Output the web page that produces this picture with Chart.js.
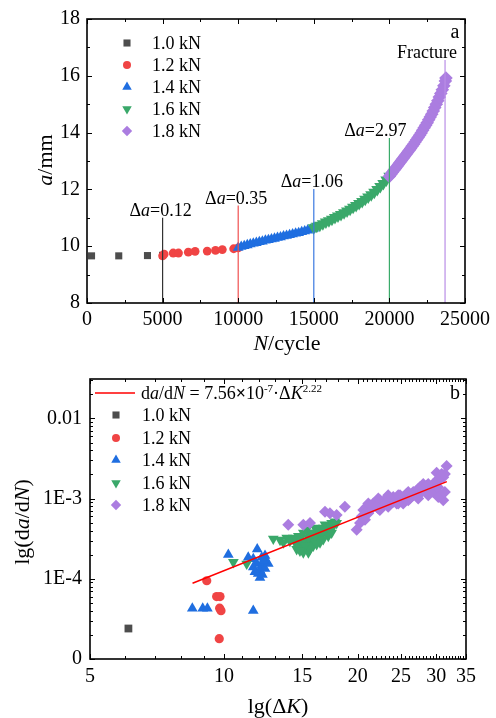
<!DOCTYPE html>
<html><head><meta charset="utf-8">
<script src="https://cdn.jsdelivr.net/npm/chart.js@4/dist/chart.umd.min.js"></script>
<style>
html,body{margin:0;padding:0;background:#fff;}
.box{width:496px;height:359px;position:relative;}
canvas{display:block;}
</style>
</head><body>
<div class="box"><canvas id="c1"></canvas></div>
<div class="box"><canvas id="c2"></canvas></div>
<script>
const FONT = '"Liberation Serif","Times New Roman",serif';
const seriesLabels = ['1.0 kN','1.2 kN','1.4 kN','1.6 kN','1.8 kN'];
const seriesColors = ['#4d4d4d','#f04444','#1f6ee0','#3aa86a','#ab7de0'];
const seriesStyles = ['rect','circle','triangle','triangleDown','rectRot'];

// ---------- chart a : crack length vs cycles ----------
const cycles10 = [300, 2100, 4000, 5000];
const crack10  = [9.66, 9.66, 9.67, 9.68];
const cycles12 = [5000, 5100, 5700, 6050, 6700, 7150, 7950, 8500, 8950, 9700, 10000];
const crack12  = [9.66, 9.72, 9.76, 9.76, 9.79, 9.82, 9.83, 9.85, 9.88, 9.91, 9.94];
const cycles14 = [10000,10200,10400,10600,10800,11000,11200,11400,11600,11800,12000,12200,12400,12600,12800,13000,13200,13400,13600,13800,14000,14200,14400,14600,14800,15000];
const crack14  = [9.95,9.98,10.01,10.04,10.07,10.10,10.12,10.15,10.17,10.20,10.22,10.25,10.27,10.30,10.32,10.35,10.37,10.40,10.42,10.45,10.47,10.50,10.53,10.56,10.59,10.63];
const cycles16 = [15000,15200,15400,15600,15800,16000,16200,16400,16600,16800,17000,17200,17400,17600,17800,18000,18200,18400,18600,18800,19000,19200,19400,19600,19800,20000];
const crack16  = [10.65,10.70,10.74,10.79,10.85,10.90,10.95,11.01,11.06,11.12,11.18,11.24,11.30,11.37,11.43,11.50,11.57,11.65,11.73,11.81,11.90,12.00,12.10,12.21,12.33,12.46];
const cycles18 = [20000,20100,20200,20300,20400,20500,20600,20700,20800,20900,21000,21100,21200,21300,21400,21500,21600,21700,21800,21900,22000,22100,22200,22300,22400,22500,22600,22700,22800,22900,23000,23100,23200,23300,23400,23500,23600,23700,23740];
const crack18  = [12.46,12.53,12.60,12.67,12.74,12.81,12.88,12.95,13.02,13.09,13.16,13.23,13.30,13.37,13.44,13.52,13.59,13.67,13.75,13.83,13.91,13.99,14.08,14.17,14.26,14.35,14.45,14.55,14.65,14.76,14.88,15.00,15.12,15.25,15.38,15.51,15.65,15.82,15.92];
// load-change markers
const markCycles = [5000, 10000, 15000, 20000, 23680];
const markTop    = [11.0, 11.43, 12.01, 13.81, 16.56];
const markText   = ['0.12', '0.35', '1.06', '2.97', 'Fracture'];
const markColors = ['#333333', '#f05050', '#3a78e0', '#3aab6a', '#b98ee6'];
const aXTicks = [0, 5000, 10000, 15000, 20000, 25000];
const aYTicks = [8, 10, 12, 14, 16, 18];

// ---------- chart b : da/dN vs dK ----------
const dK10 = [6.1];
const rate10 = [2.4e-5];
const dK12 = [9.15, 9.63, 9.80, 9.78, 9.85, 9.76];
const rate12 = [9.45e-5, 6.0e-5, 6.0e-5, 4.3e-5, 4.0e-5, 1.79e-5];
const dK14 = [8.49,8.96,9.18,11.64,10.23,11.34,11.64,11.88,12.16,12.37,11.85,12.16,12.47,11.64,12.05,12.37,11.94,12.05,12.58,12.26,11.74,12.2];
const rate14 = [4.26e-5,4.26e-5,4.26e-5,4.0e-5,2.0e-4,1.85e-4,1.77e-4,2.34e-4,1.85e-4,1.94e-4,1.54e-4,1.47e-4,1.61e-4,1.40e-4,1.28e-4,1.34e-4,1.16e-4,1.03e-4,1.54e-4,1.69e-4,1.22e-4,1.13e-4];
const dK16 = [10.50,11.25,12.91,13.37,13.6,14.32,14.45,14.70,14.82,14.95,15.08,15.35,15.61,15.61,15.88,15.88,16.16,16.30,16.44,16.58,16.72,17.02,17.16,17.31,17.46,17.61,17.76,17.92,15.35,15.08,16.02,16.87,14.57,15.21,14.82,15.48,16.44,17.16,15.88,13.84,
              14.07,14.57,14.95,15.48,15.74,16.02,16.30,16.58,16.87,17.31,17.61,15.61,15.21,14.82,16.16,16.72,17.46];
const rate16 = [1.61e-4,1.54e-4,3.16e-4,3.05e-4,2.83e-4,3.25e-4,2.83e-4,3.41e-4,2.58e-4,2.34e-4,2.13e-4,2.46e-4,2.83e-4,3.41e-4,3.74e-4,2.58e-4,3.10e-4,3.57e-4,3.92e-4,3.41e-4,4.31e-4,3.74e-4,4.52e-4,4.10e-4,4.95e-4,4.52e-4,5.18e-4,4.95e-4,4.10e-4,3.74e-4,4.31e-4,4.73e-4,2.34e-4,2.96e-4,3.10e-4,2.13e-4,2.83e-4,3.41e-4,3.10e-4,3.25e-4,
                2.96e-4,3.10e-4,2.83e-4,3.25e-4,3.74e-4,3.41e-4,4.10e-4,3.74e-4,4.10e-4,4.52e-4,4.73e-4,2.34e-4,2.58e-4,2.23e-4,2.70e-4,3.10e-4,3.74e-4];
const dK18 = [13.95,15.08,15.61,16.87,17.31,17.92,18.7,19.88,20.22,20.75,20.4,20.57,20.93,20.93,21.29,21.65,21.65,22.03,22.41,22.41,22.8,23.21,23.61,24.02,24.02,24.45,24.87,25.29,25.29,25.74,26.18,26.64,26.64,27.11,27.57,28.05,28.05,28.55,29.04,29.54,29.54,30.06,30.06,30.58,30.58,30.85,31.11,31.11,31.66,21.29,22.03,22.8,24.45,26.18,27.57,29.04,30.3,23.4,
              21.11,21.11,22.23,22.23,23.40,23.40,24.65,24.65,25.96,25.96,27.33,27.33,28.79,28.79,30.32,30.32,31.38,31.38];
const rate18 = [4.73e-4,4.73e-4,4.95e-4,6.88e-4,6.56e-4,6.25e-4,7.92e-4,4.10e-4,4.95e-4,5.43e-4,5.98e-4,7.20e-4,7.92e-4,6.88e-4,8.28e-4,8.69e-4,7.92e-4,9.12e-4,9.53e-4,7.20e-4,9.12e-4,1.0e-3,9.53e-4,1.05e-3,9.12e-4,1.0e-3,1.10e-3,1.05e-3,8.69e-4,1.15e-3,1.10e-3,1.21e-3,1.10e-3,1.26e-3,1.39e-3,1.32e-3,1.52e-3,1.45e-3,1.39e-3,1.52e-3,1.21e-3,1.67e-3,2.1e-3,1.75e-3,1.10e-3,2.02e-3,1.84e-3,9.53e-4,2.55e-3,7.20e-4,7.92e-4,8.28e-4,8.69e-4,1.0e-3,1.15e-3,1.21e-3,1.39e-3,1.10e-3,
                8.69e-4,6.56e-4,1.0e-3,7.55e-4,1.05e-3,7.92e-4,1.10e-3,8.69e-4,1.21e-3,9.53e-4,1.32e-3,1.0e-3,1.52e-3,1.10e-3,1.75e-3,1.05e-3,2.02e-3,1.21e-3];
// Paris-law fit line end points
const fitK = [8.5, 31.7];
const fitRate = [8.8e-5, 1.63e-3];
const bXTicks = [5, 10, 15, 20, 25, 30, 35];
const bYTicks = [1e-5, 1e-4, 1e-3, 1e-2];
const bYLabels = ['0', '1E-4', '1E-3', '0.01'];

// ---------- helpers ----------
const pts = (xs, ys) => xs.map((v, i) => ({x: v, y: ys[i]}));
const radiiA = {rect: 5, circle: 4.4, triangle: 6.2, triangleDown: 7, rectRot: 6.8};
const radiiB = {rect: 5.5, circle: 4.6, triangle: 6.2, triangleDown: 6.2, rectRot: 6};
const radiiLegend = {rect: 5, circle: 4, triangle: 5.5, triangleDown: 5.5, rectRot: 5.2};

function drawMarker(ctx, style, x, y, r, color) {
  ctx.fillStyle = color; ctx.beginPath();
  if (style === 'rect') { const s = r * Math.SQRT1_2; ctx.rect(x - s, y - s, 2 * s, 2 * s); }
  else if (style === 'circle') ctx.arc(x, y, r, 0, Math.PI * 2);
  else if (style === 'triangle') { ctx.moveTo(x, y - r); ctx.lineTo(x + r * 0.866, y + r * 0.5); ctx.lineTo(x - r * 0.866, y + r * 0.5); }
  else if (style === 'triangleDown') { ctx.moveTo(x, y + r); ctx.lineTo(x + r * 0.866, y - r * 0.5); ctx.lineTo(x - r * 0.866, y - r * 0.5); }
  else if (style === 'rectRot') { ctx.moveTo(x - r, y); ctx.lineTo(x, y - r); ctx.lineTo(x + r, y); ctx.lineTo(x, y + r); }
  ctx.closePath(); ctx.fill();
}

// runs: [{t, i(italic), b(bold), sup}]
function drawRuns(ctx, runs, x, y, size, align) {
  const parts = runs.map(r => {
    const s = r.sup ? Math.round(size * 0.62) : size;
    const font = (r.i ? 'italic ' : '') + (r.b ? 'bold ' : '') + s + 'px ' + FONT;
    ctx.font = font;
    return {t: r.t, font, w: ctx.measureText(r.t).width, dy: r.sup ? -size * 0.4 : 0};
  });
  const total = parts.reduce((a, p) => a + p.w, 0);
  let cx = align === 'center' ? x - total / 2 : (align === 'right' ? x - total : x);
  ctx.textBaseline = 'alphabetic'; ctx.textAlign = 'left'; ctx.fillStyle = '#000';
  for (const p of parts) { ctx.font = p.font; ctx.fillText(p.t, cx, y + p.dy); cx += p.w; }
}

function range(a, b, step, skip) {
  const out = [];
  for (let v = a; v <= b + 1e-9; v += step) { const r = Math.round(v * 1000) / 1000; if (!skip || !skip(r)) out.push(r); }
  return out;
}

const framePlugin = {
  id: 'frame',
  afterDatasetsDraw(chart, args, o) {
    const {ctx, chartArea: a} = chart;
    const xs = chart.scales.x, ys = chart.scales.y;
    ctx.save();
    ctx.strokeStyle = '#000';
    ctx.lineWidth = 1;
    const seg = (x1, y1, x2, y2) => { ctx.beginPath(); ctx.moveTo(x1, y1); ctx.lineTo(x2, y2); ctx.stroke(); };
    const doX = (vals, len) => vals.forEach(v => { const p = Math.round(xs.getPixelForValue(v)) + 0.5; seg(p, a.bottom, p, a.bottom - len); seg(p, a.top, p, a.top + len); });
    const doY = (vals, len) => vals.forEach(v => { const p = Math.round(ys.getPixelForValue(v)) + 0.5; seg(a.left, p, a.left + len, p); seg(a.right, p, a.right - len, p); });
    doX(o.xMajor, 5); doX(o.xMinor, 3); doY(o.yMajor, 5); doY(o.yMinor, 3);
    ctx.lineWidth = 1.6;
    ctx.strokeRect(a.left, a.top, a.right - a.left, a.bottom - a.top);
    ctx.restore();
  }
};

// ---------- chart a ----------
const textPluginA = {
  id: 'textA',
  afterDraw(chart) {
    const {ctx} = chart; const xs = chart.scales.x, ys = chart.scales.y;
    ctx.save();
    drawRuns(ctx, [{t: 'N', i: true}, {t: '/cycle'}], 287, 350, 22, 'center');
    ctx.save(); ctx.translate(52, 160); ctx.rotate(-Math.PI / 2);
    drawRuns(ctx, [{t: 'a', i: true}, {t: '/mm'}], 0, 0, 22, 'center'); ctx.restore();
    drawRuns(ctx, [{t: 'a'}], 455, 38, 20, 'center');
    const dx = [-2, -2, -2, -14, -18];
    markCycles.forEach((n, i) => {
      const px = xs.getPixelForValue(n) + dx[i];
      const py = ys.getPixelForValue(markTop[i]) - 2;
      const runs = i < 4 ? [{t: 'Δ'}, {t: 'a', i: true}, {t: '=' + markText[i]}] : [{t: markText[i]}];
      drawRuns(ctx, runs, px, py, 18, 'center');
    });
    const rows = [43, 65, 87, 109, 131];
    rows.forEach((y, i) => {
      drawMarker(ctx, seriesStyles[i], 127, y, radiiLegend[seriesStyles[i]], seriesColors[i]);
      drawRuns(ctx, [{t: seriesLabels[i]}], 152, y + 6, 18, 'left');
    });
    ctx.restore();
  }
};

const lineSets = markCycles.map((n, i) => ({
  type: 'line', data: [{x: n, y: 8}, {x: n, y: markTop[i]}],
  borderColor: markColors[i], borderWidth: 1.2, pointRadius: 0, order: 0
}));
function scatterSets(list, radii, clip) {
  return list.map((d, i) => ({
    label: seriesLabels[i], data: pts(d[0], d[1]),
    pointStyle: seriesStyles[i] === 'triangleDown' ? 'triangle' : seriesStyles[i],
    rotation: seriesStyles[i] === 'triangleDown' ? 180 : 0,
    pointRadius: radii[seriesStyles[i]], backgroundColor: seriesColors[i], borderColor: seriesColors[i], borderWidth: 0,
    order: 5 - i, clip: clip
  }));
}
const scatterSetsA = scatterSets([[cycles10, crack10], [cycles12, crack12], [cycles14, crack14], [cycles16, crack16], [cycles18, crack18]], radiiA, false);

const tickFont = {family: FONT, size: 20};
new Chart(document.getElementById('c1'), {
  type: 'scatter',
  data: {datasets: [...lineSets, ...scatterSetsA]},
  options: {
    responsive: true, maintainAspectRatio: false, animation: false, devicePixelRatio: 1, events: [],
    layout: {padding: {top: 17, right: 31, left: 0, bottom: 0}},
    plugins: {legend: {display: false}, tooltip: {enabled: false},
      frame: {xMajor: aXTicks, xMinor: range(2500, 22500, 5000), yMajor: aYTicks, yMinor: range(9, 17, 2)}},
    scales: {
      x: {type: 'linear', min: 0, max: 25000,
        afterBuildTicks: s => { s.ticks = aXTicks.map(v => ({value: v})); },
        afterFit: s => { s.height = 56; },
        ticks: {font: tickFont, color: '#000', padding: 5, maxRotation: 0, callback: v => String(v)},
        grid: {display: false, drawTicks: false}, border: {display: false}},
      y: {type: 'linear', min: 8, max: 18,
        afterBuildTicks: s => { s.ticks = aYTicks.map(v => ({value: v})); },
        afterFit: s => { s.width = 87; },
        ticks: {font: tickFont, color: '#000', padding: 7, callback: v => String(v)},
        grid: {display: false, drawTicks: false}, border: {display: false}}
    }
  },
  plugins: [framePlugin, textPluginA]
});

// ---------- chart b ----------
const textPluginB = {
  id: 'textB',
  afterDraw(chart) {
    const {ctx} = chart;
    ctx.save();
    drawRuns(ctx, [{t: 'lg(Δ'}, {t: 'K', i: true}, {t: ')'}], 278, 354, 22, 'center');
    ctx.save(); ctx.translate(29, 163); ctx.rotate(-Math.PI / 2);
    drawRuns(ctx, [{t: 'lg(d'}, {t: 'a', i: true}, {t: '/d'}, {t: 'N', i: true}, {t: ')'}], 0, 0, 22, 'center'); ctx.restore();
    drawRuns(ctx, [{t: 'b'}], 455, 40, 20, 'center');
    ctx.strokeStyle = '#ff0000'; ctx.lineWidth = 1.5;
    ctx.beginPath(); ctx.moveTo(95, 34); ctx.lineTo(135, 34); ctx.stroke();
    drawRuns(ctx, [{t: 'd'}, {t: 'a', i: true}, {t: '/d'}, {t: 'N', i: true}, {t: ' = 7.56'}, {t: '×', b: true}, {t: '10'}, {t: '-7', sup: true}, {t: '·Δ'}, {t: 'K', i: true}, {t: '2.22', sup: true}], 141, 40, 18, 'left');
    const rows = [56, 79, 101, 124, 146];
    rows.forEach((y, i) => {
      drawMarker(ctx, seriesStyles[i], 116, y, radiiLegend[seriesStyles[i]], seriesColors[i]);
      drawRuns(ctx, [{t: seriesLabels[i]}], 142, y + 6, 18, 'left');
    });
    ctx.restore();
  }
};

const fitSet = {type: 'line', data: pts(fitK, fitRate), borderColor: '#ff0000', borderWidth: 1.5, pointRadius: 0, order: 0};
const scatterSetsB = scatterSets([[dK10, rate10], [dK12, rate12], [dK14, rate14], [dK16, rate16], [dK18, rate18]], radiiB, undefined);

const logMinorY = [];
[1e-5, 1e-4, 1e-3, 1e-2].forEach(d => { for (let k = 2; k <= 9; k++) { const v = d * k; if (v <= 0.031) logMinorY.push(v); } });
const minorXb = range(6, 19, 1, v => v % 5 === 0).concat(range(20.5, 34.5, 0.5, v => v % 5 === 0));

new Chart(document.getElementById('c2'), {
  type: 'scatter',
  data: {datasets: [fitSet, ...scatterSetsB]},
  options: {
    responsive: true, maintainAspectRatio: false, animation: false, devicePixelRatio: 1, events: [],
    layout: {padding: {top: 14, right: 30, left: 0, bottom: 0}},
    plugins: {legend: {display: false}, tooltip: {enabled: false},
      frame: {xMajor: bXTicks, xMinor: minorXb, yMajor: bYTicks, yMinor: logMinorY}},
    scales: {
      x: {type: 'logarithmic', min: 5, max: 35,
        afterBuildTicks: s => { s.ticks = bXTicks.map(v => ({value: v})); },
        afterFit: s => { s.height = 59; },
        ticks: {font: tickFont, color: '#000', padding: 6, maxRotation: 0, autoSkip: false, callback: v => String(v)},
        grid: {display: false, drawTicks: false}, border: {display: false}},
      y: {type: 'logarithmic', min: 1e-5, max: 0.031,
        afterBuildTicks: s => { s.ticks = bYTicks.map(v => ({value: v})); },
        afterFit: s => { s.width = 90; },
        ticks: {font: tickFont, color: '#000', padding: 8, autoSkip: false,
          callback: v => { const i = bYTicks.findIndex(t => Math.abs(t - v) / t < 1e-6); return i >= 0 ? bYLabels[i] : ''; }},
        grid: {display: false, drawTicks: false}, border: {display: false}}
    }
  },
  plugins: [framePlugin, textPluginB]
});
</script>
</body></html>
